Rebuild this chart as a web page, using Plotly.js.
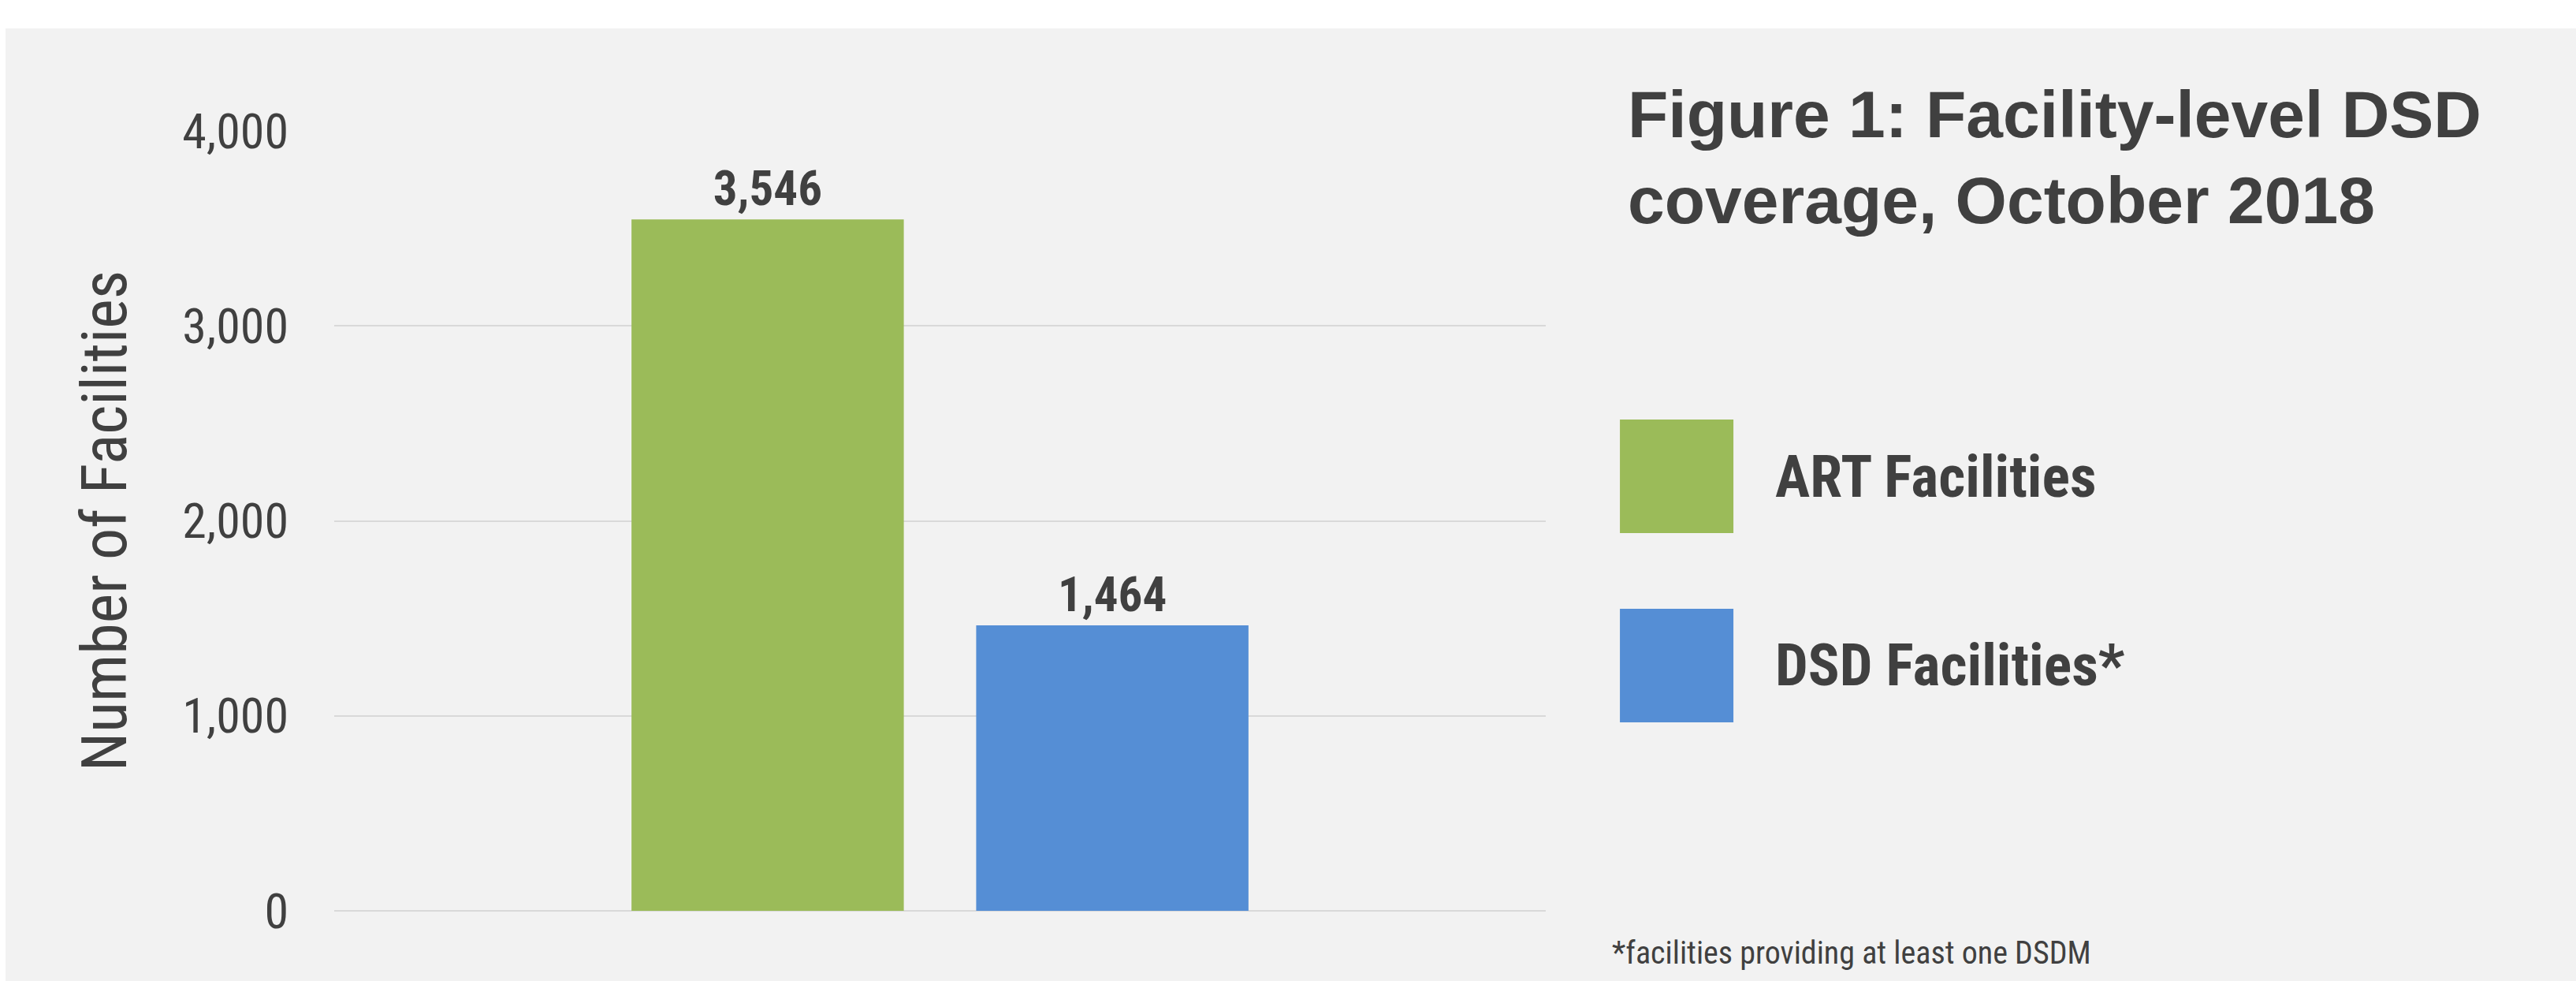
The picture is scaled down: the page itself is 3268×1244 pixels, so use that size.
<!DOCTYPE html>
<html>
<head>
<meta charset="utf-8">
<script src="https://cdn.plot.ly/plotly-3.0.1.min.js"></script>
<style>
  html, body { margin: 0; padding: 0; background: #ffffff; overflow: hidden; }
  #chart { position: absolute; left: 7px; top: 36px; width: 3261px; height: 1208px; }
</style>
</head>
<body>
<div id="chart"></div>
<script>
// ---- data ----
const categories = ['October 2018'];
const seriesNames = ['ART Facilities', 'DSD Facilities*'];
const artValues = [3546];
const dsdValues = [1464];
const yTickValues = [0, 1000, 2000, 3000, 4000];
const yTickLabels = ['0', '1,000', '2,000', '3,000', '4,000'];
const chartTitle = 'Figure 1: Facility-level DSD<br>coverage, October 2018';
const yAxisTitle = 'Number of Facilities';
const footnote = '*facilities providing at least one DSDM';

// ---- styles ----
const seriesColors = ['#9bbb59', '#558ed5'];
const textColor = '#404040';
const narrow = "'Roboto Condensed', 'Liberation Sans Narrow', 'Arial Narrow', 'Liberation Sans', sans-serif";
const bold = "'Liberation Sans', Arial, sans-serif";

const seriesValues = [artValues, dsdValues];
const traces = seriesNames.map((name, i) => ({
  type: 'bar',
  name: name,
  x: categories,
  y: seriesValues[i],
  marker: { color: seriesColors[i] },
  texttemplate: '%{y:,}',
  textposition: 'outside',
  cliponaxis: false,
  textfont: { family: narrow, size: 61, color: textColor, weight: 'bold' },
  hoverinfo: 'skip'
}));

// custom legend (large square swatches + labels), in paper coordinates
const legendBoxes = [
  { y0: 0.4843, y1: 0.6299 },
  { y0: 0.2417, y1: 0.3873 }
];
const shapes = seriesNames.map((n, i) => ({
  type: 'rect', xref: 'paper', yref: 'paper',
  x0: 1.0612, x1: 1.1549, y0: legendBoxes[i].y0, y1: legendBoxes[i].y1,
  fillcolor: seriesColors[i], line: { width: 0 }
}));
const annotations = seriesNames.map((n, i) => ({
  xref: 'paper', yref: 'paper',
  x: 1.1880, y: (legendBoxes[i].y0 + legendBoxes[i].y1) / 2,
  xanchor: 'left', yanchor: 'middle', showarrow: false,
  text: '<b>' + n + '</b>',
  font: { family: narrow, size: 74, color: textColor }
}));
annotations.push({
  xref: 'paper', yref: 'paper',
  x: 1.0534, y: -0.0542,
  xanchor: 'left', yanchor: 'middle', showarrow: false,
  text: footnote,
  font: { family: narrow, size: 40, color: textColor }
});

const layout = {
  width: 3261,
  height: 1208,
  margin: { l: 417, r: 1307, t: 130, b: 89, pad: 0 },
  paper_bgcolor: '#f2f2f2',
  plot_bgcolor: '#f2f2f2',
  showlegend: false,
  barmode: 'group',
  bargap: 0.431,
  bargroupgap: 0.21,
  hovermode: false,
  title: {
    text: '<b>' + chartTitle + '</b>',
    font: { family: bold, size: 84, color: textColor },
    xref: 'container', yref: 'container',
    x: 0.6311, xanchor: 'left',
    y: 0.886, yanchor: 'top'
  },
  xaxis: {
    type: 'category',
    showticklabels: false,
    showgrid: false,
    zeroline: false,
    showline: false,
    ticks: ''
  },
  yaxis: {
    range: [0, 4000],
    tickvals: yTickValues,
    ticktext: yTickLabels,
    tickfont: { family: narrow, size: 62, color: textColor },
    ticks: '',
    ticklabelstandoff: 57,
    showgrid: true,
    gridcolor: '#d9d9d9',
    gridwidth: 2,
    zeroline: true,
    zerolinecolor: '#d9d9d9',
    zerolinewidth: 2,
    showline: false,
    title: {
      text: yAxisTitle,
      font: { family: narrow, size: 80, color: textColor },
      standoff: 44
    }
  },
  shapes: shapes,
  annotations: annotations
};

Plotly.newPlot('chart', traces, layout, { displayModeBar: false, staticPlot: true });
</script>
</body>
</html>
